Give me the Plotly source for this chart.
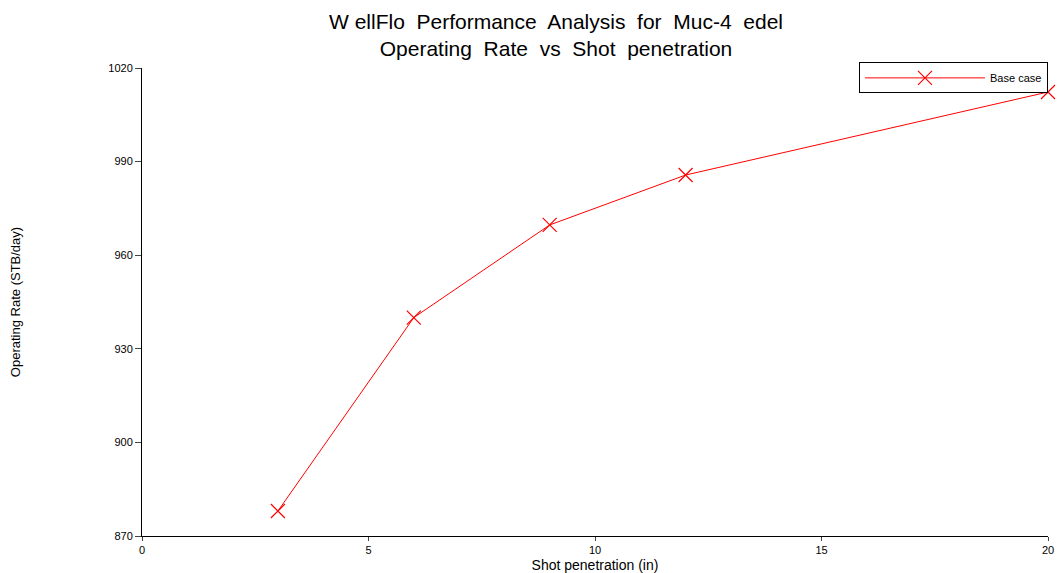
import plotly.graph_objects as go

shot_penetration = [3, 6, 9, 12, 20]
operating_rate = [878, 940, 969.7, 985.7, 1012.3]
series_name = "Base case"

fig = go.Figure()
fig.add_trace(go.Scatter(
    x=shot_penetration, y=operating_rate, mode="lines+markers", name=series_name,
    line=dict(color="#ff0000", width=1), cliponaxis=False,
    marker=dict(symbol="x-thin-open", size=14, line=dict(color="#ff0000", width=1.2), color="#ff0000"),
))

font_family = "Liberation Sans, Arial, sans-serif"
fig.update_layout(
    width=1057, height=573,
    margin=dict(l=142, r=9, t=68, b=37),
    paper_bgcolor="white", plot_bgcolor="white",
    font=dict(family=font_family, color="black", size=11),
    title=dict(
        text="W ellFlo  Performance  Analysis  for  Muc-4  edel<br>Operating  Rate  vs  Shot  penetration",
        x=556 / 1057, xanchor="center", xref="container", yref="container", y=1 - 29 / 573, yanchor="middle",
        font=dict(family=font_family, size=21, color="black"),
    ),
    showlegend=True,
    legend=dict(
        x=1.0, xanchor="right", y=1.012, yanchor="top",
        bordercolor="black", borderwidth=1, bgcolor="white",
        font=dict(size=11, family=font_family), itemwidth=120,
    ),
    xaxis=dict(
        range=[0, 20], tickvals=[0, 5, 10, 15, 20], ticks="outside", ticklen=4,
        showline=True, linecolor="black", linewidth=1, showgrid=False, zeroline=False,
        title=dict(text="Shot penetration (in)", font=dict(size=14), standoff=4),
        automargin=False,
    ),
    yaxis=dict(
        range=[870, 1020], tickvals=[870, 900, 930, 960, 990, 1020], ticks="outside", ticklen=6,
        showline=True, linecolor="black", linewidth=1, showgrid=False, zeroline=False,
        title=dict(text="Operating Rate (STB/day)", font=dict(size=13), standoff=84),
        automargin=False,
    ),
)

fig.write_html("out.html")
